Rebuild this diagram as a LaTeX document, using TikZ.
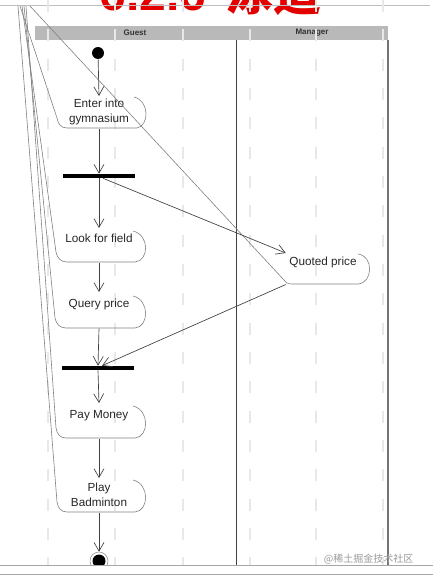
\documentclass[tikz,border=0pt]{standalone}
\usepackage{fontspec}
\setmainfont{Liberation Sans}
\newfontfamily\cjk{Noto Sans CJK SC}
\usetikzlibrary{arrows.meta}

\begin{document}
\begin{tikzpicture}[x=0.75pt,y=-0.75pt,
  act/.style={anchor=north,inner sep=0pt,minimum width=60pt,align=center,text=black!85,font=\fontsize{8.8}{11.25}\selectfont},
  bar/.style={fill=black,inner sep=0pt,minimum width=54pt,minimum height=3pt},
  flow/.style={-{Straight Barb[length=6.5pt,width=7.5pt]},black!75,line width=0.5pt},
  edge/.style={black!50,line width=0.45pt},
  lane/.style={font=\fontsize{6}{6.5}\bfseries\selectfont,text=black!80}]
\useasboundingbox (0,0) rectangle (433,578);
\node[anchor=base west,text=red!90!black,font=\fontsize{36}{36}\bfseries\selectfont] (title) at (95,11) {6.2.6\hspace{14pt}\cjk 泳道};
\draw[black!25] (0,5)--(430,5);
\fill[gray!55] (35,26) rectangle (388,40);
\node[lane] (guest) at (135,33) {Guest};
\node[lane] (manager) at (312,33) {Manager};
\draw[black!75,line width=0.6pt] (236,40)--(236,565);
\draw[black!55,line width=1.5pt] (388,40)--(388,565);
\foreach \x in {48,115,183,250,316,383}
  \draw[black!9,line width=1.5pt,dash pattern=on 9pt off 13pt] (\x,0)--(\x,565);

\node[circle,fill=black,inner sep=0pt,minimum size=9pt] (init) at (98,53) {};
\node[act,minimum height=24pt] (enter) at (99,96) {Enter into\\gymnasium};
\node[bar] (fork1) at (99,176) {};
\node[act,text height=10.5pt,text depth=15pt] (look) at (99,228) {Look for field};
\node[act,text height=11.25pt,text depth=15.75pt] (query) at (99,292) {Query price};
\node[bar] (fork2) at (98,368) {};
\node[act,text height=11.25pt,text depth=15pt] (pay) at (99,403) {Pay Money};
\node[act,minimum height=25.5pt] (play) at (99,478) {Play\\Badminton};
\node[act,minimum width=55.5pt,text height=11.25pt,text depth=14.25pt] (quoted) at (323,250) {Quoted price};

\draw[edge] (20,6)--(57,118) .. controls (58,124) and (61,128) .. (67,128)--(137,128) .. controls (149,126) and (150,101) .. (134,97);
\draw[edge] (22,6)--(56,252) .. controls (57,258) and (61,262) .. (67,262)--(135,262) .. controls (149,261) and (150,235) .. (133,231);
\draw[edge] (24,6)--(55,318) .. controls (56,324) and (60,328) .. (66,328)--(135,328) .. controls (149,327) and (150,300) .. (133,296);
\draw[edge] (26,6)--(56,428) .. controls (57,434) and (60,438) .. (66,438)--(135,438) .. controls (149,437) and (150,410) .. (133,406);
\draw[edge] (18,6)--(57,502) .. controls (58,508) and (61,512) .. (67,512)--(135,512) .. controls (149,511) and (150,484) .. (133,480);
\draw[edge] (30,6)--(283,279) .. controls (285,282) and (287,284) .. (292,284)--(358,284) .. controls (373,283) and (374,256) .. (358,254);

\begin{scope}
\clip (0,0) rectangle (433,565);
\node[circle,draw=black!45,fill=white,inner sep=0pt,minimum size=13.5pt] (final) at (99,561) {};
\fill[black] (final.center) circle (6.5);
\end{scope}
\draw[black!35] (0,565)--(433,565);
\draw[black!35] (0,574)--(433,574);

\draw[flow] (init)--(enter.north);
\draw[flow] (enter.south)--(fork1.north);
\draw[flow] (fork1.south)--(look.north);
\draw[flow] (look.south)--(query.north);
\draw[flow] (query.south)--(fork2.north);
\draw[flow] (fork2.south)--(pay.north);
\draw[flow] (pay.south)--(play.north);
\draw[flow] (play.south)--(final.north);
\draw[flow] ([xshift=3pt]fork1.south)--([yshift=-2.25pt]quoted.north west);
\draw[flow] (quoted.south west)--([xshift=3pt]fork2.north);

\node[anchor=base east,text=black!40,font=\cjk\fontsize{7.5}{8}\selectfont] (mark) at (418,562) {@稀土掘金技术社区};
\end{tikzpicture}
\end{document}
